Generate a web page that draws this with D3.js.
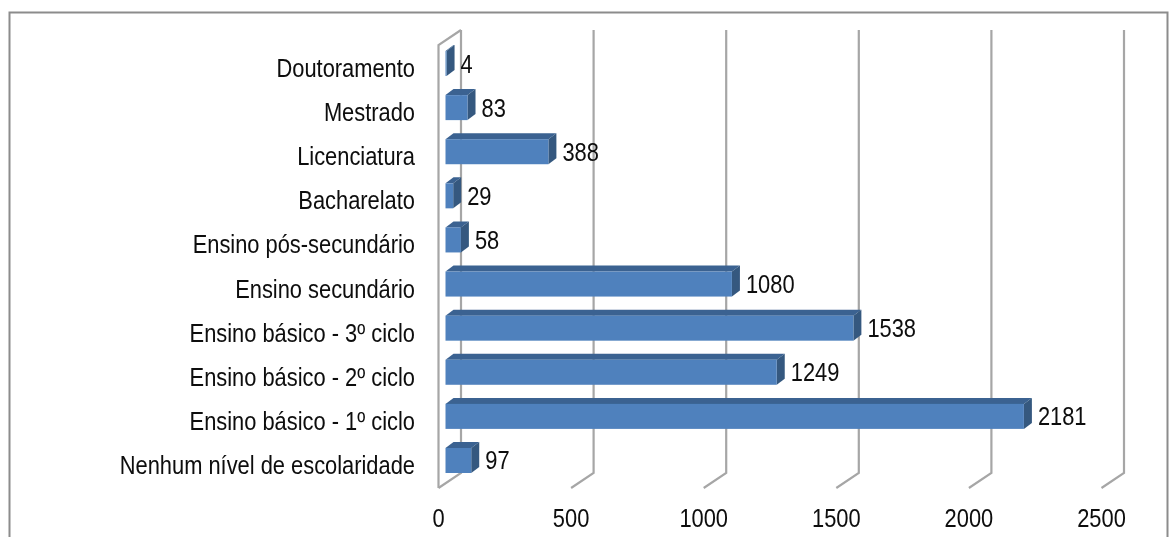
<!DOCTYPE html>
<html><head><meta charset="utf-8">
<script src="https://cdn.jsdelivr.net/npm/d3@7/dist/d3.min.js"></script>
<style>html,body{margin:0;padding:0;background:#fff}svg{display:block}text{font-family:"Liberation Sans",Arial,sans-serif;fill:#0a0a0a}</style>
</head><body><div id="c"></div>
<script>
const categories=["Doutoramento","Mestrado","Licenciatura","Bacharelato","Ensino pós-secundário","Ensino secundário","Ensino básico - 3º ciclo","Ensino básico - 2º ciclo","Ensino básico - 1º ciclo","Nenhum nível de escolaridade"];
const values=[4,83,388,29,58,1080,1538,1249,2181,97];
const tickValues=[0,500,1000,1500,2000,2500];

const W=1176,H=537;
const svg=d3.select("#c").append("svg").attr("width",W).attr("height",H);
const defs=svg.append("defs");
defs.append("filter").attr("id","soft").append("feGaussianBlur").attr("stdDeviation",0.55);
defs.append("filter").attr("id","softT").append("feGaussianBlur").attr("stdDeviation",0.3);
const fx=d3.scaleLinear().domain([0,2500]).range([438.5,1101.5]);
const dx=22.5,dy=15,floorY=488,topY=45;
const barX=v=>fx(v)+7;
const y=d3.scaleBand().domain(categories).range([51,473]).paddingInner(0.433).paddingOuter(0);
const bd=8,bdy=6;
// frame
svg.append("path").attr("d",`M9.5,${H}V12.5H1167.5V${H}`).attr("fill","none").attr("stroke","#8c8c8c").attr("stroke-width",2);
const g=svg.append("g").attr("filter","url(#soft)");
const gc="#a6a6a6";
// gridlines with floor ticks
g.selectAll("path.grid").data(tickValues).join("path").attr("class","grid")
 .attr("fill","none").attr("stroke",gc).attr("stroke-width",2.2)
 .attr("d",d=>`M${fx(d)+dx},${topY-dy}V${floorY-dy}L${fx(d)},${floorY}`);
// wall
g.append("path").attr("fill","none").attr("stroke",gc).attr("stroke-width",2.2)
 .attr("d",`M${fx(0)},${floorY}V${topY}L${fx(0)+dx},${topY-dy}`);
// bars
const b=g.selectAll("g.bar").data(categories.map((c,i)=>({c,v:values[i]}))).join("g").attr("class","bar");
b.append("path").attr("fill","#3a6291").attr("d",d=>{const x0=barX(0),x1=barX(d.v),t=y(d.c);return `M${x0},${t}L${x0+bd},${t-bdy}H${x1+bd}L${x1},${t}Z`;});
b.append("path").attr("fill","#34587f").attr("d",d=>{const x1=barX(d.v),t=y(d.c),h=y.bandwidth();return `M${x1},${t}L${x1+bd},${t-bdy}V${t+h-bdy}L${x1},${t+h}Z`;});
b.append("rect").attr("fill","#4f81bd").attr("x",barX(0)).attr("y",d=>y(d.c)).attr("width",d=>barX(d.v)-barX(0)).attr("height",y.bandwidth());
// labels
const fs=25, sx=0.875;
const tg=svg.append("g").attr("filter","url(#softT)");
const lab=(sel,xf,yf,anchor,txt)=>sel.append("text").attr("transform",d=>`translate(${xf(d)},${yf(d)}) scale(${sx},1)`).attr("text-anchor",anchor).attr("font-size",fs).text(txt);
lab(tg.selectAll("t.c").data(categories).enter(),()=>415,d=>y(d)+y.bandwidth()/2+13.5,"end",d=>d);
lab(tg.selectAll("t.v").data(categories.map((c,i)=>({c,v:values[i]}))).enter(),d=>barX(d.v)+bd+6,d=>y(d.c)+y.bandwidth()/2+9,"start",d=>d.v);
lab(tg.selectAll("t.x").data(tickValues).enter(),d=>fx(d),()=>527,"middle",d=>d);
</script></body></html>
